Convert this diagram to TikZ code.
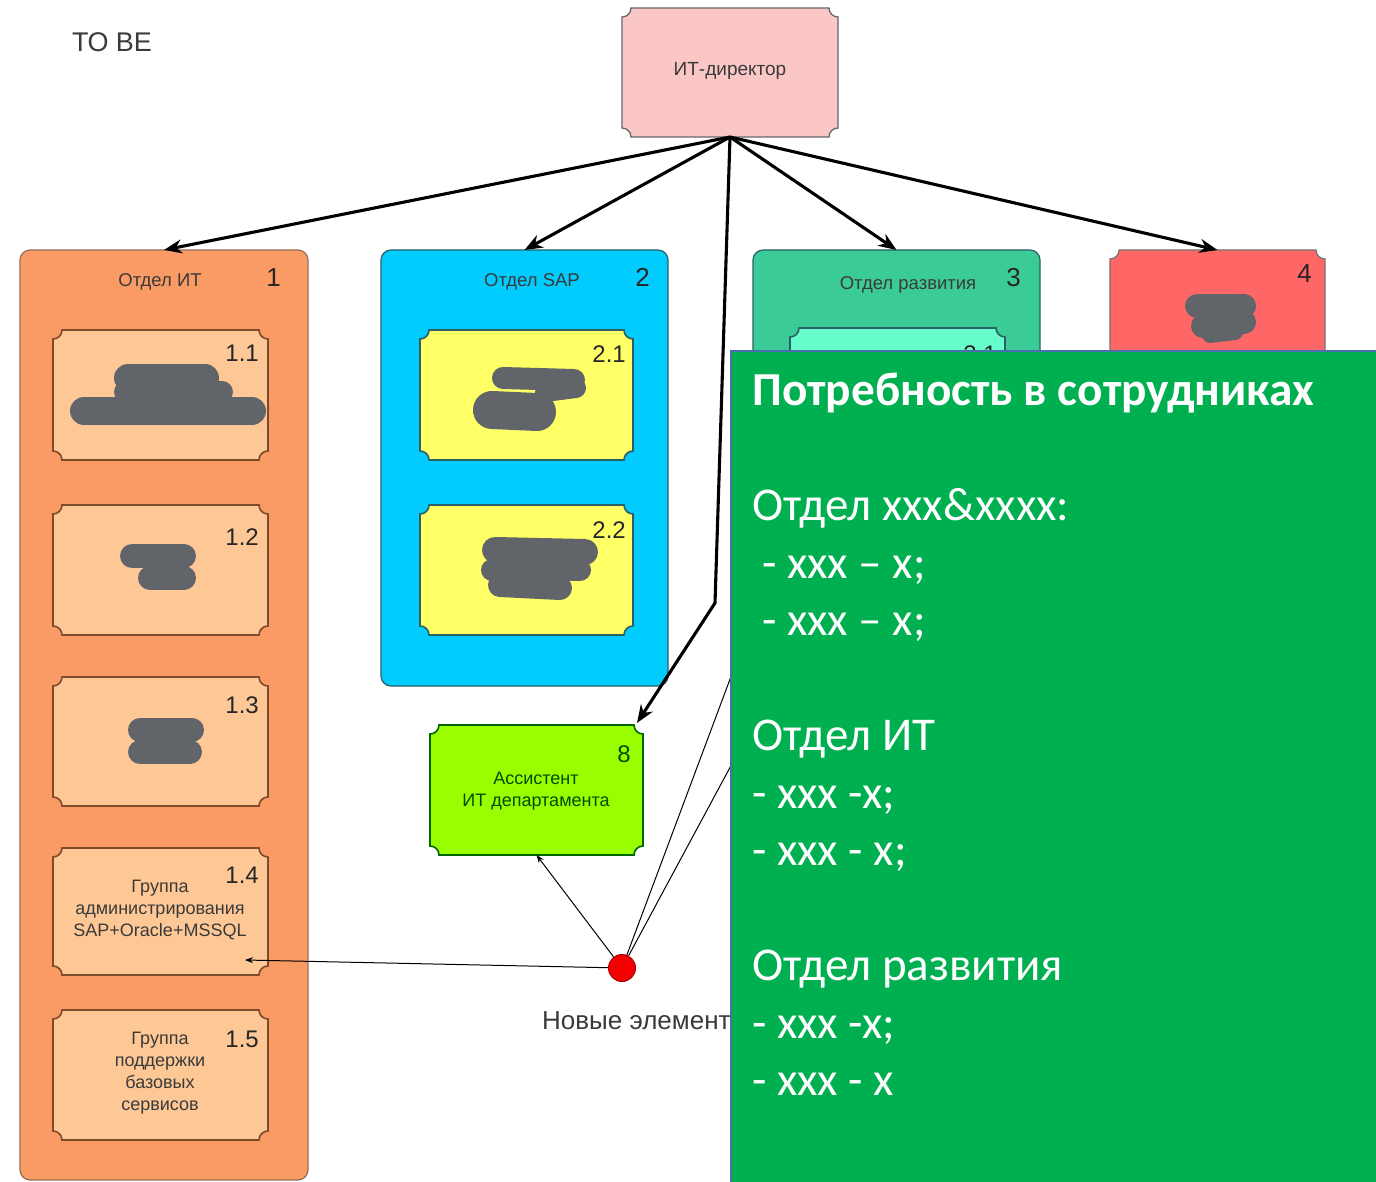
\documentclass[tikz,border=0pt]{standalone}
\usepackage{fontspec}
\setmainfont{Liberation Sans}
\newfontfamily\panelfont{Carlito}
\usetikzlibrary{arrows.meta}

% colours of the chart
\definecolor{dirpink}{HTML}{FBC6C6}
\definecolor{itorange}{HTML}{FA9A64}
\definecolor{itpeach}{HTML}{FDC896}
\definecolor{sapcyan}{HTML}{00CCFF}
\definecolor{sapyellow}{HTML}{FFFF66}
\definecolor{devgreen}{HTML}{3ACB96}
\definecolor{devmint}{HTML}{66FFCC}
\definecolor{redbox}{HTML}{FF6666}
\definecolor{lime}{HTML}{99FF00}
\definecolor{panelgreen}{HTML}{00AF50}
\definecolor{paneledge}{HTML}{4A6FB0}
\definecolor{blot}{HTML}{616468}
\definecolor{inktext}{HTML}{3A3A3A}
\definecolor{brownedge}{HTML}{7B4B2A}
\definecolor{tealedge}{HTML}{2E5E66}

% box with concave (notched) corners
\newcommand\notchbox[6]{% name, x0, y0, x1, y1, style
  \path[#6] ({#2+9},{#3}) -- ({#4-9},{#3})
    .. controls ({#4-9},{#3+5}) and ({#4-5},{#3+9}) .. ({#4},{#3+9})
    -- ({#4},{#5-9})
    .. controls ({#4-5},{#5-9}) and ({#4-9},{#5-5}) .. ({#4-9},{#5})
    -- ({#2+9},{#5})
    .. controls ({#2+9},{#5-5}) and ({#2+5},{#5-9}) .. ({#2},{#5-9})
    -- ({#2},{#3+9})
    .. controls ({#2+5},{#3+9}) and ({#2+9},{#3+5}) .. ({#2+9},{#3}) -- cycle;
  \node[area, minimum width={#4-#2}, minimum height={#5-#3}] (#1) at ({(#2+#4)/2},{(#3+#5)/2}) {};
}
% rounded department frame
\newcommand\deptbox[6]{%
  \path[#6, rounded corners=10pt] (#2,#3) rectangle (#4,#5);
  \node[area, minimum width={#4-#2}, minimum height={#5-#3}] (#1) at ({(#2+#4)/2},{(#3+#5)/2}) {};
}

\begin{document}
\begin{tikzpicture}[x=1pt, y=-1pt,
  area/.style={inner sep=0pt, outer sep=0pt},
  label/.style={text=inktext, inner sep=0pt, font=\fontsize{18}{22}\selectfont, align=center},
  title/.style={text=inktext, inner sep=0pt, font=\fontsize{18.5}{22}\selectfont},
  numlbl/.style={text=black!85, inner sep=0pt, anchor=base east, font=\fontsize{24}{28}\selectfont},
  bignum/.style={text=black!85, inner sep=0pt, anchor=base east, font=\fontsize{26}{30}\selectfont},
  bigarrow/.style={line width=3.1pt, -{Stealth[length=18pt,width=14pt]}},
  thinarrow/.style={line width=1pt, -{Stealth[length=8pt,width=6pt]}},
  thinline/.style={line width=1pt},
  smudge/.style={draw=blot, line width=#1, line cap=round, line join=round},
  paneltext/.style={text=white, inner sep=0pt, anchor=base west, font=\panelfont\fontsize{47}{57.5}\selectfont}
]
\useasboundingbox (0,0) rectangle (1376,1182);
\fill[white] (0,0) rectangle (1376,1182);

\node[anchor=base west, inner sep=0pt, text=inktext, font=\fontsize{27}{30}\selectfont] (tobe) at (72,52) {ТО ВЕ};

% director
\notchbox{itdir}{622}{8}{838}{137}{fill=dirpink, draw=black!60, line width=1.3pt}
\node[title, font=\fontsize{19}{22}\selectfont] (itdirtxt) at (730,71) {ИТ-директор};

% IT department
\deptbox{otit}{20}{250}{308}{1180}{fill=itorange, draw=brownedge!80, line width=1.2pt}
\node[title, anchor=base] (otittl) at (160,287) {Отдел ИТ};
\node[bignum] (otitnum) at (281,287) {1};
\notchbox{g11}{53}{330}{268}{460}{fill=itpeach, draw=brownedge, line width=1.6pt}
\notchbox{g12}{53}{505}{268}{635}{fill=itpeach, draw=brownedge, line width=1.6pt}
\notchbox{g13}{53}{677}{268}{806}{fill=itpeach, draw=brownedge, line width=1.6pt}
\notchbox{g14}{53}{848}{268}{975}{fill=itpeach, draw=brownedge, line width=1.6pt}
\notchbox{g15}{53}{1010}{268}{1140}{fill=itpeach, draw=brownedge, line width=1.6pt}
\node[numlbl] (n11) at (259,361) {1.1};
\node[numlbl] (n12) at (259,545) {1.2};
\node[numlbl] (n13) at (259,713) {1.3};
\node[numlbl] (n14) at (259,883) {1.4};
\node[numlbl] (n15) at (259,1047) {1.5};
\node[label] (t14) at (160,910) {Группа\\администрирования\\SAP+Oracle+MSSQL};
\node[label] (t15) at (160,1073) {Группа\\поддержки\\базовых\\сервисов};
% obscured captions
\draw[smudge=28pt] (128,378) -- (205,378);
\draw[smudge=22pt] (125,392) -- (222,392);
\draw[smudge=28pt] (84,411) -- (252,411);
\draw[smudge=24pt] (132,556) -- (184,556);
\draw[smudge=24pt] (150,578) -- (184,578);
\draw[smudge=24pt] (140,730) -- (192,730);
\draw[smudge=24pt] (140,752) -- (190,752);

% SAP department
\deptbox{otsap}{381}{250}{668}{686}{fill=sapcyan, draw=tealedge, line width=1.2pt}
\node[title, anchor=base] (otsapttl) at (532,287) {Отдел SAP};
\node[bignum] (otsapnum) at (650,287) {2};
\notchbox{g21}{420}{330}{633}{460}{fill=sapyellow, draw=tealedge, line width=1.6pt}
\notchbox{g22}{420}{505}{633}{635}{fill=sapyellow, draw=tealedge, line width=1.6pt}
\node[numlbl] (n21) at (626,362) {2.1};
\node[numlbl] (n22) at (626,538) {2.2};
\draw[smudge=22pt] (503,378) -- (574,380);
\draw[smudge=20pt] (545,392) -- (576,388);
\draw[smudge=38pt] (492,410) -- (537,412);
\draw[smudge=26pt] (495,550) -- (585,552);
\draw[smudge=24pt] (500,585) -- (560,588);
\draw[smudge=22pt] (492,570) -- (580,570);

% development department
\deptbox{otdev}{753}{250}{1040}{700}{fill=devgreen, draw=tealedge, line width=1.2pt}
\node[title, anchor=base] (otdevttl) at (908,290) {Отдел развития};
\node[bignum] (otdevnum) at (1021,287) {3};
\notchbox{g31}{790}{328}{1005}{458}{fill=devmint, draw=tealedge, line width=1.6pt}
\node[numlbl] (n31) at (997,362) {3.1};

% fourth unit
\notchbox{unit4}{1110}{250}{1325}{500}{fill=redbox, draw=black!55, line width=1.2pt}
\node[bignum] (unit4num) at (1312,283) {4};
\draw[smudge=24pt] (1197,306) -- (1244,306);
\draw[smudge=24pt] (1203,326) -- (1244,322);
\draw[smudge=16pt] (1210,335) -- (1235,332);

% assistant
\notchbox{asst}{430}{725}{643}{855}{fill=lime, draw=black!60!green, line width=1.6pt}
\node[numlbl, text=black!60!green!80!black] (n8) at (631,762) {8};
\node[label, text=black!70!green] (asstxt) at (536,791) {Ассистент\\ИТ департамента};

% new elements marker
\node[circle, fill=red!95!black, draw=red!70!black, line width=1pt, minimum size=27pt, inner sep=0pt] (dot) at (622,968) {};
\node[anchor=base west, inner sep=0pt, text=inktext, font=\fontsize{26}{28}\selectfont] (newel) at (542,1029) {Новые элементы};
\coordinate (p14) at (245,960);
\coordinate (h1) at (760,599);
\coordinate (h2) at (790,656);
\draw[thinarrow] (dot) -- (p14);
\draw[thinarrow] (dot) -- (asst.south);
\draw[thinline] (dot) -- (h1);
\draw[thinline] (dot) -- (h2);

% reporting lines
\coordinate (bend) at (715,603);
\draw[bigarrow] (itdir.south) -- (otit.north);
\draw[bigarrow] (itdir.south) -- (otsap.north);
\draw[bigarrow] (itdir.south) -- (otdev.north);
\draw[bigarrow] (itdir.south) -- (unit4.north);
\draw[bigarrow] (itdir.south) -- (bend) -- ([xshift=-6pt,yshift=2pt]asst.north east);

% staffing needs panel
\fill[panelgreen] (730,350) rectangle (1376,1182);
\draw[paneledge, line width=2pt] (731,1182) -- (731,351) -- (1376,351);
\node[paneltext, font=\panelfont\bfseries\fontsize{47.3}{57.5}\selectfont] (needs) at (752,405) {Потребность в сотрудниках};
\node[paneltext] (l1) at (752,520) {Отдел xxx\&xxxx:};
\node[paneltext] (l2) at (762,578) {- xxx – x;};
\node[paneltext] (l3) at (762,635) {- xxx – x;};
\node[paneltext] (l4) at (752,750) {Отдел ИТ};
\node[paneltext] (l5) at (752,808) {- xxx -x;};
\node[paneltext] (l6) at (752,865) {- xxx - x;};
\node[paneltext] (l7) at (752,980) {Отдел развития};
\node[paneltext] (l8) at (752,1038) {- xxx -x;};
\node[paneltext] (l9) at (752,1095) {- xxx - x};
\end{tikzpicture}
\end{document}
